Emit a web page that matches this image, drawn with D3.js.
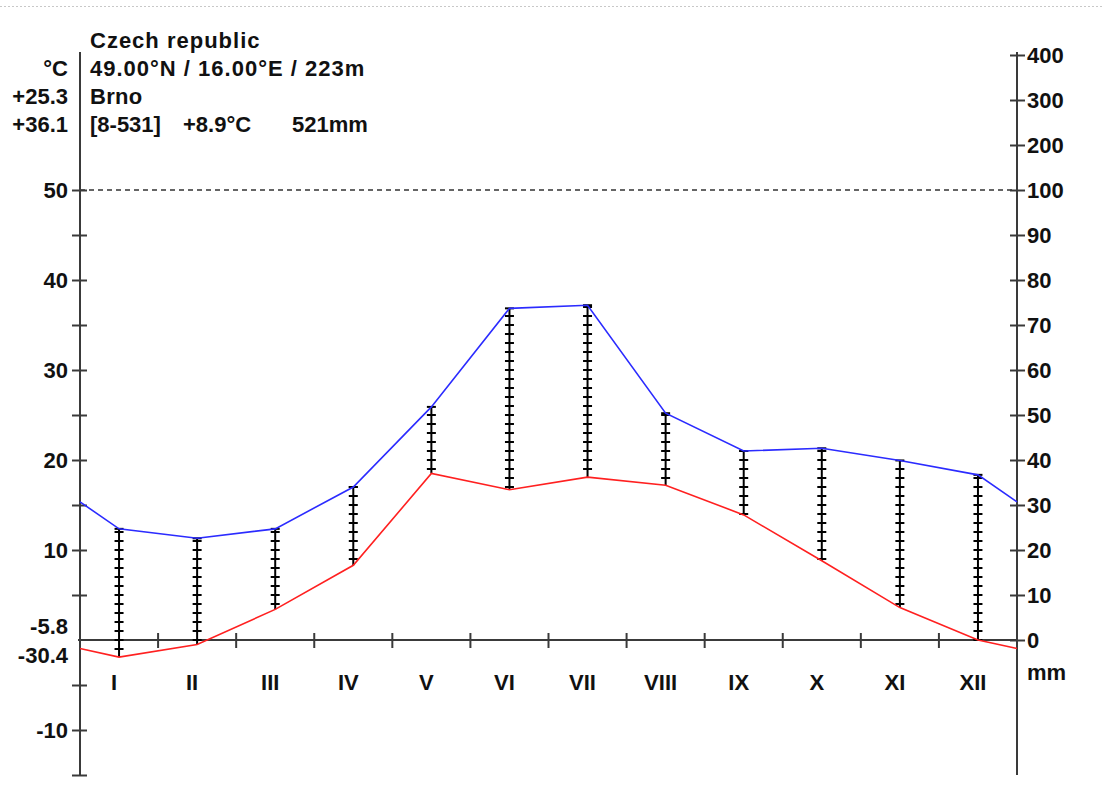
<!DOCTYPE html>
<html>
<head>
<meta charset="utf-8">
<title>Brno climate diagram</title>
<script src="https://cdn.jsdelivr.net/npm/d3@7/dist/d3.min.js"></script>
<style>
  html, body { margin: 0; padding: 0; background: #fff; }
  svg { display: block; font-family: "Liberation Sans", Arial, sans-serif; font-weight: bold; }
  .axis path, .axis line { stroke: #3a3a3a; stroke-width: 2; }
  .axis text { font-size: 22px; fill: #111; font-family: "Liberation Sans", Arial, sans-serif; font-weight: bold; }
</style>
</head>
<body>
<svg id="chart" width="1103" height="810"></svg>
<script>
/* global d3 */

var MONTHS = ['I', 'II', 'III', 'IV', 'V', 'VI', 'VII', 'VIII', 'IX', 'X', 'XI', 'XII'];
// monthly mean temperature, °C
var TEMPS = [-1.9, -0.5, 3.4, 8.3, 18.5, 16.7, 18.1, 17.2, 13.9, 8.8, 3.6, 0.0];
// monthly precipitation, mm
var PRECIP = [24.7, 22.6, 24.7, 34.0, 51.8, 73.7, 74.4, 50.4, 42.0, 42.6, 39.9, 36.7];

var TEMP_LABELS = [50, 40, 30, 20, 10, -10];
var TEMP_MINOR = [45, 35, 25, 15, 5, -5, -15];
var PRECIP_TICKS = [0, 10, 20, 30, 40, 50, 60, 70, 80, 90, 100, 200, 300, 400];

var HEADER = ['Czech republic', '49.00°N / 16.00°E / 223m', 'Brno'];
var SUMMARY = ['[8-531]', '+8.9°C', '521mm'];
var LEFT_STATS = ['°C', '+25.3', '+36.1'];
var LOW_STATS = ['-5.8', '-30.4'];

(function () {
  'use strict';

  var svg = d3.select('#chart');
  var left = 80, right = 1017, top = 52, bottom = 775;

  var x = d3.scaleLinear().domain([0, 12]).range([left, right]);
  var yT = d3.scaleLinear().domain([-15, 50]).range([bottom, 190]);
  // precipitation: 10°C = 20mm up to 100mm, compressed above
  var yP = d3.scaleLinear().domain([0, 100, 400]).range([yT(0), yT(50), 55]);

  function mid(i) { return x(i + 0.5); }

  // ─── page border + reference line ──────────────────────────────────────────

  svg.append('line')
    .attr('x1', 0).attr('x2', 1103).attr('y1', 6.5).attr('y2', 6.5)
    .attr('stroke', '#c8c8c8').attr('stroke-width', 1)
    .attr('stroke-dasharray', '2 2');

  svg.append('line')
    .attr('x1', left).attr('x2', right)
    .attr('y1', yT(50)).attr('y2', yT(50))
    .attr('stroke', '#333').attr('stroke-width', 1.5)
    .attr('stroke-dasharray', '5 4');

  // ─── axes ──────────────────────────────────────────────────────────────────

  var gl = svg.append('g').attr('class', 'axis')
    .attr('transform', 'translate(' + left + ',0)')
    .call(d3.axisLeft(yT).tickValues(TEMP_LABELS.concat(TEMP_MINOR))
      .tickSize(8).tickPadding(4)
      .tickFormat(function (d) { return TEMP_LABELS.indexOf(d) >= 0 ? d : ''; }));
  gl.select('.domain').remove();
  gl.selectAll('.tick line').attr('x1', 7);
  gl.selectAll('.tick text').attr('x', -12);

  var gr = svg.append('g').attr('class', 'axis')
    .attr('transform', 'translate(' + right + ',0)')
    .call(d3.axisRight(yP).tickValues(PRECIP_TICKS).tickSize(8).tickPadding(2));
  gr.select('.domain').remove();
  gr.selectAll('.tick line').attr('x1', -7);
  gr.selectAll('.tick text').attr('x', 10);

  [left, right].forEach(function (px) {
    svg.append('line')
      .attr('x1', px).attr('x2', px).attr('y1', top).attr('y2', bottom)
      .attr('stroke', '#3a3a3a').attr('stroke-width', 2);
  });

  svg.append('line')
    .attr('x1', left - 2).attr('x2', right).attr('y1', yT(0)).attr('y2', yT(0))
    .attr('stroke', '#3a3a3a').attr('stroke-width', 2);

  svg.append('g').selectAll('line')
    .data(d3.range(1, 12))
    .join('line')
    .attr('x1', function (d) { return x(d); })
    .attr('x2', function (d) { return x(d); })
    .attr('y1', yT(0) - 7).attr('y2', yT(0) + 8)
    .attr('stroke', '#3a3a3a').attr('stroke-width', 2);

  svg.append('g').selectAll('text')
    .data(MONTHS)
    .join('text')
    .attr('x', function (d, i) { return mid(i) - 5; })
    .attr('y', 690)
    .attr('text-anchor', 'middle')
    .attr('font-size', 22)
    .attr('fill', '#111')
    .text(function (d) { return d; });

  svg.append('text')
    .attr('x', right + 10).attr('y', 680)
    .attr('font-size', 22).attr('fill', '#111')
    .text('mm');

  // ─── humid period: hatched verticals ───────────────────────────────────────

  var bars = svg.append('g');
  MONTHS.forEach(function (m, i) {
    var t = TEMPS[i], p = PRECIP[i];
    if (p / 2 <= t) return;
    var cx = mid(i);
    bars.append('line')
      .attr('x1', cx).attr('x2', cx)
      .attr('y1', yT(t)).attr('y2', yP(p))
      .attr('stroke', '#000').attr('stroke-width', 2);
    var steps = d3.range(Math.ceil(t), Math.floor(p / 2) + 1);
    bars.selectAll(null)
      .data(steps)
      .enter().append('line')
      .attr('x1', cx - 4.5).attr('x2', cx + 4.5)
      .attr('y1', function (d) { return yT(d); })
      .attr('y2', function (d) { return yT(d); })
      .attr('stroke', '#000').attr('stroke-width', 2);
    bars.append('line')
      .attr('x1', cx - 4.5).attr('x2', cx + 4.5)
      .attr('y1', yP(p)).attr('y2', yP(p))
      .attr('stroke', '#000').attr('stroke-width', 2);
  });

  // ─── curves (wrapped to the axes with the Dec/Jan mean) ────────────────────

  function wrapped(values) {
    var edge = (values[0] + values[11]) / 2;
    var pts = [[0, edge]];
    values.forEach(function (v, i) { pts.push([i + 0.5, v]); });
    pts.push([12, edge]);
    return pts;
  }

  svg.append('path')
    .datum(wrapped(PRECIP))
    .attr('fill', 'none').attr('stroke', '#2b2bff').attr('stroke-width', 1.6)
    .attr('d', d3.line().x(function (d) { return x(d[0]); }).y(function (d) { return yP(d[1]); }));

  svg.append('path')
    .datum(wrapped(TEMPS))
    .attr('fill', 'none').attr('stroke', '#ff2020').attr('stroke-width', 1.6)
    .attr('d', d3.line().x(function (d) { return x(d[0]); }).y(function (d) { return yT(d[1]); }));

  // ─── header texts ──────────────────────────────────────────────────────────

  var head = svg.append('g').attr('font-size', 22).attr('fill', '#111');
  head.selectAll('text.h')
    .data(HEADER)
    .join('text')
    .attr('class', 'h')
    .attr('x', 90)
    .attr('y', function (d, i) { return 48 + i * 28; })
    .attr('letter-spacing', function (d, i) { return i < 2 ? 1 : 0.3; })
    .text(function (d) { return d; });

  var sumX = [90, 183, 292];
  head.selectAll('text.s')
    .data(SUMMARY)
    .join('text')
    .attr('class', 's')
    .attr('x', function (d, i) { return sumX[i]; })
    .attr('y', 132)
    .text(function (d) { return d; });

  head.selectAll('text.l')
    .data(LEFT_STATS)
    .join('text')
    .attr('class', 'l')
    .attr('x', 68)
    .attr('y', function (d, i) { return 76 + i * 28; })
    .attr('text-anchor', 'end')
    .text(function (d) { return d; });

  head.selectAll('text.lo')
    .data(LOW_STATS)
    .join('text')
    .attr('class', 'lo')
    .attr('x', 68)
    .attr('y', function (d, i) { return 634 + i * 29; })
    .attr('text-anchor', 'end')
    .text(function (d) { return d; });
})();
</script>
</body>
</html>
